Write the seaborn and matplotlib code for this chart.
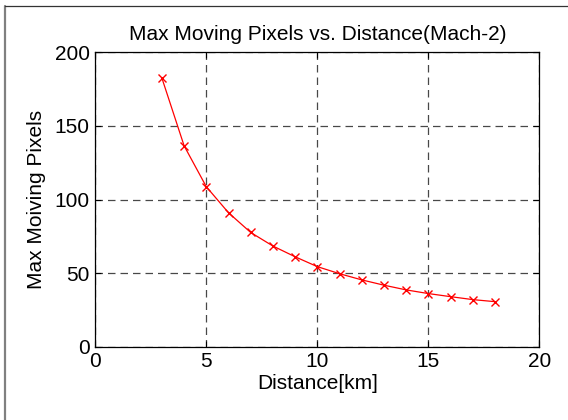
import matplotlib
matplotlib.use("Agg")
import matplotlib.pyplot as plt
import seaborn as sns
import pandas as pd
from matplotlib.lines import Line2D

distance_km = [3, 4, 5, 6, 7, 8, 9, 10, 11, 12, 13, 14, 15, 16, 17, 18]
max_pixels = [182.5, 136.5, 108.7, 91.0, 77.6, 68.4, 61.1, 54.4, 49.6, 45.4, 41.8, 38.6, 36.1, 34.0, 32.0, 30.6]
x_ticks = [0, 5, 10, 15, 20]
y_ticks = [0, 50, 100, 150, 200]

df = pd.DataFrame({"Distance": distance_km, "Pixels": max_pixels})

sns.set_theme(style="white")
plt.rcParams["font.family"] = ["Liberation Sans", "DejaVu Sans"]

FS = 15

fig = plt.figure(figsize=(5.68, 4.20), dpi=100)
ax = fig.add_axes([95.3 / 568, 1 - 346.7 / 420, (539.3 - 95.3) / 568, (346.7 - 52.3) / 420])

sns.lineplot(data=df, x="Distance", y="Pixels", ax=ax, color="red", linewidth=0.9,
             marker="x", markersize=6, markeredgewidth=1.0, markeredgecolor="red")

ax.set_xlim(0, 20)
ax.set_ylim(0, 200)
ax.set_xticks(x_ticks)
ax.set_yticks(y_ticks)
ax.tick_params(direction="in", length=4, width=0.8, colors="black", labelsize=FS,
               top=True, right=True, bottom=True, left=True, pad=4)
ax.grid(True, color="#484848", linestyle=(0, (6, 4)), linewidth=0.9)
for s in ax.spines.values():
    s.set_color("black")
    s.set_linewidth(0.9)

ax.set_title("Max Moving Pixels vs. Distance(Mach-2)", fontsize=FS, pad=9, color="black")
ax.set_xlabel("Distance[km]", fontsize=FS, color="black", labelpad=2)
ax.set_ylabel("Max Moiving Pixels", fontsize=FS, color="black", labelpad=6)

# figure border (left gray, top dark)
fig.add_artist(Line2D([4.5 / 568, 4.5 / 568], [0, 1 - 6 / 420], transform=fig.transFigure,
                      color="#808080", linewidth=1.6))
fig.add_artist(Line2D([4.5 / 568, 1], [1 - 6 / 420, 1 - 6 / 420], transform=fig.transFigure,
                      color="#333333", linewidth=0.9))

fig.savefig("out.png", dpi=100, facecolor="white")
